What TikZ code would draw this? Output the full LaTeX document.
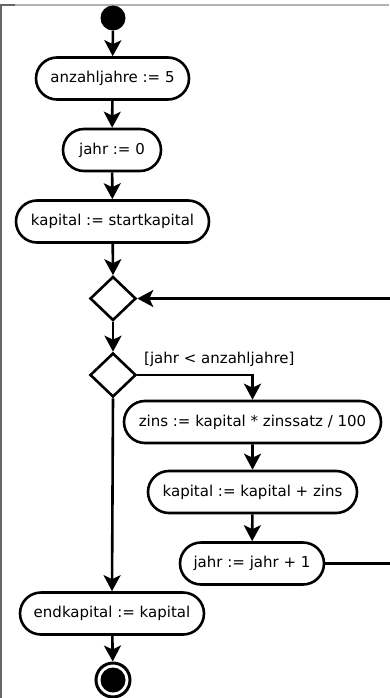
\documentclass[tikz,border=0pt]{standalone}
\usepackage{fontspec}
\setmainfont{DejaVu Sans}
\usetikzlibrary{shapes.misc,shapes.geometric,arrows.meta}
\begin{document}
\begin{tikzpicture}[x=1pt,y=-1pt,
  act/.style={draw,rounded rectangle,line width=2.6pt,minimum height=42pt,inner sep=0pt,font=\fontsize{15}{17}\selectfont},
  dec/.style={draw,diamond,line width=2.6pt,minimum width=46pt,minimum height=44pt,inner sep=0pt},
  flow/.style={line width=2.6pt,-{Stealth[length=16pt,width=17pt,inset=4pt]}},
  plain/.style={line width=2.6pt},
  frame/.style={line width=1.5pt}
]
\useasboundingbox (0,0) rectangle (389,698);
% window frame
\draw[frame,gray!60] (0,5) -- (389,5);
\draw[frame,gray!120] (1,5) -- (1,698);
\draw[frame,gray!120] (0,5) -- (15,5);

\node[circle,fill=black,minimum size=25pt,inner sep=0pt] (start) at (113,18) {};
\node[act,minimum width=153pt] (a1) at (112.5,78.5) {anzahljahre := 5};
\node[act,minimum width=98pt] (a2) at (112,150) {jahr := 0};
\node[act,minimum width=193pt] (a3) at (112.5,221.5) {kapital := startkapital};
\node[dec] (d1) at (113,298.5) {};
\node[dec] (d2) at (113,375) {};
\node[anchor=west,inner sep=0pt,font=\fontsize{15}{17}\selectfont] (lbl) at (144,359) {[jahr < anzahljahre]};
\node[act,minimum width=257pt] (z) at (252.5,422) {zins := kapital * zinssatz / 100};
\node[act,minimum width=209pt] (k) at (252.5,492) {kapital := kapital + zins};
\node[act,minimum width=144pt] (j) at (252,563.5) {jahr := jahr + 1};
\node[act,minimum width=184pt] (e) at (112,613.5) {endkapital := kapital};
\node[circle,draw,line width=3pt,minimum size=34pt,inner sep=0pt] (end) at (113,680) {};
\node[circle,fill=black,minimum size=25pt,inner sep=0pt] (endin) at (113,680) {};

\coordinate (r1) at (400,563.5);
\coordinate (r2) at (400,298.5);

\draw[flow] (start) -- (a1);
\draw[flow] (a1) -- (a2);
\draw[flow] (a2) -- (a3);
\draw[flow] (a3) -- (d1.north);
\draw[flow] (d1.south) -- (d2.north);
\draw[flow] (d2.east) -| (z.north);
\draw[flow] (z) -- (k);
\draw[flow] (k) -- (j);
\draw[plain] (j.east) -- (r1) -- (r2);
\draw[flow] (r2) -- (d1.east);
\draw[flow] (d2.south) -- (e.north);
\draw[flow] (e) -- (end);
\end{tikzpicture}
\end{document}
